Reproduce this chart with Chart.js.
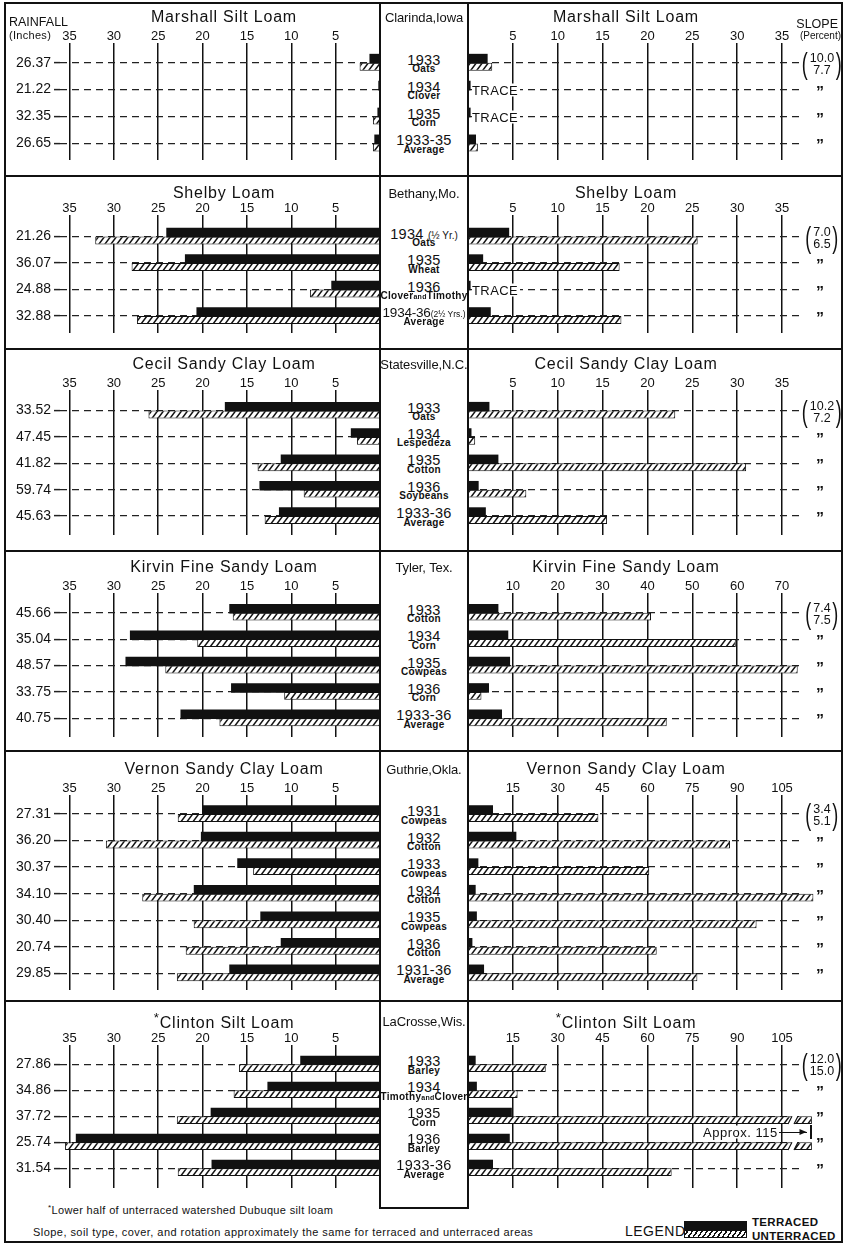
<!DOCTYPE html>
<html>
<head>
<meta charset="utf-8">
<script src="https://cdn.jsdelivr.net/npm/chart.js@4.4.0/dist/chart.umd.min.js"></script>
<style>
  body { margin: 0; background: #fff; }
  #page { position: relative; width: 845px; height: 1245px; overflow: hidden;
          font-family: "Liberation Sans", Arial, sans-serif; color: #111; background: #fff; }
  #page div.abs { position: absolute; white-space: nowrap; line-height: 1; }
  #page canvas { position: absolute; }
  .rule { position: absolute; background: #111; }
</style>
</head>
<body>
<div id="page"></div>
<script>
'use strict';

// ---- Data ----

const ticksLeft = [5, 10, 15, 20, 25, 30, 35];
const ticks35 = [5, 10, 15, 20, 25, 30, 35];
const ticks70 = [10, 20, 30, 40, 50, 60, 70];
const ticks105 = [15, 30, 45, 60, 75, 90, 105];

// Marshall Silt Loam - Clarinda, Iowa
const clarindaRain = [26.37, 21.22, 32.35, 26.65];
const clarindaYears = ['1933', '1934', '1935', '1933-35'];
const clarindaCrops = ['Oats', 'Clover', 'Corn', 'Average'];
const clarindaLeftTerraced = [1.1, 0.1, 0.2, 0.55];
const clarindaLeftUnterraced = [2.3, 0, 0.8, 0.8];
const clarindaRightTerraced = [2.1, 0.2, 0.2, 0.8];
const clarindaRightUnterraced = [2.7, 0, 0, 1.1];
const clarindaSlope = ['10.0', '7.7'];
const clarindaTrace = [1, 2];

// Shelby Loam - Bethany, Mo.
const bethanyRain = [21.26, 36.07, 24.88, 32.88];
const bethanyYears = ['1934 (½ Yr.)', '1935', '1936', '1934-36(2½ Yrs.)'];
const bethanyCrops = ['Oats', 'Wheat', 'Clover and Timothy', 'Average'];
const bethanyLeftTerraced = [24.0, 21.9, 5.4, 20.6];
const bethanyLeftUnterraced = [32.1, 28.0, 7.9, 27.4];
const bethanyRightTerraced = [4.5, 1.6, 0.2, 2.45];
const bethanyRightUnterraced = [25.6, 16.9, 0, 17.1];
const bethanySlope = ['7.0', '6.5'];
const bethanyTrace = [2];

// Cecil Sandy Clay Loam - Statesville, N.C.
const statesvilleRain = [33.52, 47.45, 41.82, 59.74, 45.63];
const statesvilleYears = ['1933', '1934', '1935', '1936', '1933-36'];
const statesvilleCrops = ['Oats', 'Lespedeza', 'Cotton', 'Soybeans', 'Average'];
const statesvilleLeftTerraced = [17.4, 3.2, 11.1, 13.5, 11.3];
const statesvilleLeftUnterraced = [26.1, 2.6, 13.8, 8.6, 13.0];
const statesvilleRightTerraced = [2.3, 0.3, 3.3, 1.1, 1.9];
const statesvilleRightUnterraced = [23.1, 0.8, 31.0, 6.5, 15.5];
const statesvilleSlope = ['10.2', '7.2'];

// Kirvin Fine Sandy Loam - Tyler, Tex.
const tylerRain = [45.66, 35.04, 48.57, 33.75, 40.75];
const tylerYears = ['1933', '1934', '1935', '1936', '1933-36'];
const tylerCrops = ['Cotton', 'Corn', 'Cowpeas', 'Corn', 'Average'];
const tylerLeftTerraced = [16.9, 28.1, 28.6, 16.7, 22.4];
const tylerLeftUnterraced = [16.6, 20.6, 24.2, 10.8, 18.1];
const tylerRightTerraced = [6.6, 8.8, 9.2, 4.5, 7.4];
const tylerRightUnterraced = [40.8, 59.7, 73.5, 3.0, 44.3];
const tylerSlope = ['7.4', '7.5'];

// Vernon Sandy Clay Loam - Guthrie, Okla.
const guthrieRain = [27.31, 36.20, 30.37, 34.10, 30.40, 20.74, 29.85];
const guthrieYears = ['1931', '1932', '1933', '1934', '1935', '1936', '1931-36'];
const guthrieCrops = ['Cowpeas', 'Cotton', 'Cowpeas', 'Cotton', 'Cowpeas', 'Cotton', 'Average'];
const guthrieLeftTerraced = [19.9, 20.1, 16.0, 20.9, 13.4, 11.1, 16.9];
const guthrieLeftUnterraced = [22.8, 30.9, 14.3, 26.8, 21.0, 21.9, 22.9];
const guthrieRightTerraced = [8.1, 15.9, 3.2, 2.3, 2.7, 1.2, 5.1];
const guthrieRightUnterraced = [43.6, 87.6, 60.6, 115.5, 96.5, 63.1, 76.7];
const guthrieSlope = ['3.4', '5.1'];

// *Clinton Silt Loam - LaCrosse, Wis.
const lacrosseRain = [27.86, 34.86, 37.72, 25.74, 31.54];
const lacrosseYears = ['1933', '1934', '1935', '1936', '1933-36'];
const lacrosseCrops = ['Barley', 'Timothy and Clover', 'Corn', 'Barley', 'Average'];
const lacrosseLeftTerraced = [8.9, 12.6, 19.0, 34.2, 18.9];
const lacrosseLeftUnterraced = [15.9, 16.5, 22.9, 35.5, 22.8];
const lacrosseRightTerraced = [2.3, 2.7, 14.4, 13.7, 8.1];
const lacrosseRightUnterraced = [26.0, 16.6, 115, 115, 68.1];
const lacrosseSlope = ['12.0', '15.0'];
const lacrosseApprox = [2, 3];

const panels = [
  { title: 'Marshall Silt Loam', place: 'Clarinda,Iowa', rain: clarindaRain, years: clarindaYears, crops: clarindaCrops,
    lt: clarindaLeftTerraced, lu: clarindaLeftUnterraced, rt: clarindaRightTerraced, ru: clarindaRightUnterraced,
    slope: clarindaSlope, rightTicks: ticks35, trace: clarindaTrace },
  { title: 'Shelby Loam', place: 'Bethany,Mo.', rain: bethanyRain, years: bethanyYears, crops: bethanyCrops,
    lt: bethanyLeftTerraced, lu: bethanyLeftUnterraced, rt: bethanyRightTerraced, ru: bethanyRightUnterraced,
    slope: bethanySlope, rightTicks: ticks35, trace: bethanyTrace },
  { title: 'Cecil Sandy Clay Loam', place: 'Statesville,N.C.', rain: statesvilleRain, years: statesvilleYears, crops: statesvilleCrops,
    lt: statesvilleLeftTerraced, lu: statesvilleLeftUnterraced, rt: statesvilleRightTerraced, ru: statesvilleRightUnterraced,
    slope: statesvilleSlope, rightTicks: ticks35 },
  { title: 'Kirvin Fine Sandy Loam', place: 'Tyler, Tex.', rain: tylerRain, years: tylerYears, crops: tylerCrops,
    lt: tylerLeftTerraced, lu: tylerLeftUnterraced, rt: tylerRightTerraced, ru: tylerRightUnterraced,
    slope: tylerSlope, rightTicks: ticks70 },
  { title: 'Vernon Sandy Clay Loam', place: 'Guthrie,Okla.', rain: guthrieRain, years: guthrieYears, crops: guthrieCrops,
    lt: guthrieLeftTerraced, lu: guthrieLeftUnterraced, rt: guthrieRightTerraced, ru: guthrieRightUnterraced,
    slope: guthrieSlope, rightTicks: ticks105 },
  { title: '<sup>*</sup>Clinton Silt Loam', place: 'LaCrosse,Wis.', rain: lacrosseRain, years: lacrosseYears, crops: lacrosseCrops,
    lt: lacrosseLeftTerraced, lu: lacrosseLeftUnterraced, rt: lacrosseRightTerraced, ru: lacrosseRightUnterraced,
    slope: lacrosseSlope, rightTicks: ticks105, approx: lacrosseApprox }
];

// ---- Layout (pixels) ----

const boxes = [
  { top: 2,    titleY: 17,   gridTop: 43,   firstRow: 62.7,   step: 26.9,  gridBottom: 160 },
  { top: 176,  titleY: 193,  gridTop: 215,  firstRow: 236.6,  step: 26.45, gridBottom: 333 },
  { top: 349,  titleY: 364,  gridTop: 390,  firstRow: 410.6,  step: 26.35, gridBottom: 535 },
  { top: 551,  titleY: 567,  gridTop: 593,  firstRow: 612.7,  step: 26.4,  gridBottom: 737 },
  { top: 751,  titleY: 769,  gridTop: 795,  firstRow: 814,    step: 26.55, gridBottom: 990 },
  { top: 1001, titleY: 1021, gridTop: 1045, firstRow: 1064.3, step: 26.0,  gridBottom: 1188 }
];
const leftZero = 380, left35 = 69.5, leftArea = 60;
const rightZero = 468, rightLast = 782, rightArea = 802;

Chart.defaults.font.family = '"Liberation Sans", Arial, sans-serif';
Chart.defaults.color = '#111';

const page = document.getElementById('page');

function put(html, x, y, style, transform) {
  const d = document.createElement('div');
  d.className = 'abs';
  d.innerHTML = html;
  d.style.left = x + 'px';
  d.style.top = y + 'px';
  d.style.transform = transform || 'translate(-50%, -50%)';
  Object.assign(d.style, style || {});
  page.appendChild(d);
  return d;
}

function rule(x, y, w, h) {
  const d = document.createElement('div');
  d.className = 'rule';
  d.style.left = x + 'px';
  d.style.top = y + 'px';
  d.style.width = w + 'px';
  d.style.height = h + 'px';
  page.appendChild(d);
}

function hatchFor(ctx) {
  const tile = document.createElement('canvas');
  tile.width = 6;
  tile.height = 8;
  const g = tile.getContext('2d');
  g.fillStyle = '#fff';
  g.fillRect(0, 0, 6, 8);
  g.strokeStyle = '#111';
  g.lineWidth = 1.5;
  g.beginPath();
  g.moveTo(-1.5, 10); g.lineTo(7.5, -2);
  g.moveTo(-7.5, 10); g.lineTo(1.5, -2);
  g.moveTo(4.5, 10); g.lineTo(13.5, -2);
  g.stroke();
  return ctx.createPattern(tile, 'repeat');
}

// keep scales from asking for extra room round the chart area
function noPadding(s) {
  s.paddingTop = 0;
  s.paddingBottom = 0;
  s.paddingLeft = 0;
  s.paddingRight = 0;
}

// white break on bars that run off the scale
const breakMarks = {
  id: 'breakMarks',
  afterDatasetsDraw(chart, args, opts) {
    if (!opts.rows) return;
    const meta = chart.getDatasetMeta(1);
    const x = chart.scales.x.getPixelForValue(opts.at);
    const ctx = chart.ctx;
    opts.rows.forEach(i => {
      const bar = meta.data[i];
      const top = bar.y - bar.height / 2, bot = bar.y + bar.height / 2;
      ctx.save();
      ctx.fillStyle = '#fff';
      ctx.beginPath();
      ctx.moveTo(x, bot); ctx.lineTo(x + 4, top - 1); ctx.lineTo(x + 10, top - 1); ctx.lineTo(x + 6, bot);
      ctx.closePath();
      ctx.fill();
      ctx.strokeStyle = '#111';
      ctx.lineWidth = 1.2;
      ctx.beginPath();
      ctx.moveTo(x, bot); ctx.lineTo(x + 4, top);
      ctx.moveTo(x + 6, bot); ctx.lineTo(x + 10, top);
      ctx.stroke();
      ctx.restore();
    });
  }
};

function makeChart(p, L, side) {
  const isLeft = side === 'left';
  const ticks = isLeft ? ticksLeft : p.rightTicks;
  const last = ticks[ticks.length - 1];
  const n = p.rain.length;
  const yMin = -(L.firstRow - L.gridTop) / L.step;
  const yMax = (n - 1) + (L.gridBottom - (L.firstRow + (n - 1) * L.step)) / L.step;
  let xMax, cx, cw, padRight;
  if (isLeft) {
    cx = 6; cw = leftZero - cx; padRight = 0;
    xMax = last * (leftZero - leftArea) / (leftZero - left35);
  } else {
    cx = rightZero; cw = 372; padRight = cx + cw - rightArea;
    xMax = last * (rightArea - rightZero) / (rightLast - rightZero);
  }
  const canvas = document.createElement('canvas');
  canvas.width = cw;
  canvas.height = L.gridBottom - L.top;
  canvas.style.left = cx + 'px';
  canvas.style.top = L.top + 'px';
  canvas.style.width = cw + 'px';
  canvas.style.height = canvas.height + 'px';
  page.appendChild(canvas);
  const ctx = canvas.getContext('2d');
  const terraced = isLeft ? p.lt : p.rt;
  const unterraced = isLeft ? p.lu : p.ru;

  return new Chart(ctx, {
    type: 'bar',
    data: {
      datasets: [
        { label: 'Terraced', data: terraced.map((v, i) => ({ x: v, y: i })),
          backgroundColor: '#111', borderWidth: 0, inflateAmount: 0.8,
          categoryPercentage: 0.6, barPercentage: 1, clip: false },
        { label: 'Unterraced', data: unterraced.map((v, i) => ({ x: v, y: i })),
          backgroundColor: hatchFor(ctx), borderColor: '#111', borderWidth: 1, borderSkipped: false,
          categoryPercentage: 0.6, barPercentage: 1, clip: false }
      ]
    },
    plugins: [breakMarks],
    options: {
      indexAxis: 'y',
      responsive: false,
      animation: false,
      events: [],
      layout: { autoPadding: false, padding: { left: 0, right: padRight, top: 0, bottom: 0 } },
      plugins: {
        legend: { display: false },
        tooltip: { enabled: false },
        breakMarks: (!isLeft && p.approx) ? { rows: p.approx, at: 107 } : {}
      },
      scales: {
        x: {
          type: 'linear', position: 'top', reverse: isLeft, min: 0, max: xMax, offset: false,
          afterBuildTicks: s => { s.ticks = ticks.map(v => ({ value: v })); },
          afterFit: s => { s.height = L.gridTop - L.top; noPadding(s); },
          grid: { color: '#111', lineWidth: 1.5, drawTicks: false, offset: false },
          border: { display: false },
          ticks: { padding: -1, font: { size: 13 }, color: '#111', autoSkip: false, maxRotation: 0 }
        },
        y: {
          type: 'linear', position: 'left', reverse: true, min: yMin, max: yMax, offset: false,
          afterBuildTicks: s => { s.ticks = p.rain.map((_, i) => ({ value: i })); },
          afterFit: s => { s.width = isLeft ? leftArea - cx : 0; noPadding(s); },
          grid: { color: '#222', lineWidth: 1.2, drawTicks: isLeft, tickLength: 6, tickWidth: 1.5, offset: false },
          border: { display: false, dash: [7, 5] },
          ticks: { display: isLeft, padding: 3, font: { size: 14 }, color: '#111',
                   callback: v => (p.rain[v] !== undefined ? p.rain[v].toFixed(2) : '') }
        }
      }
    }
  });
}

// ---- Frame ----
put('', 4, 2, { width: '839px', height: '1241px', border: '2px solid #111', boxSizing: 'border-box' }, 'none');
[176, 349, 551, 751, 1001].forEach(y => rule(5, y - 1, 837, 2));
rule(379, 2, 1.6, 1207);
rule(467, 2, 1.6, 1207);
rule(379, 1207, 90, 1.6);

// ---- Panels ----
panels.forEach((p, k) => {
  const L = boxes[k];
  makeChart(p, L, 'left');
  makeChart(p, L, 'right');

  const titleStyle = { fontSize: '16px', letterSpacing: '0.8px' };
  put(p.title, 224, L.titleY, titleStyle);
  put(p.title, 626, L.titleY, titleStyle);
  put(p.place, 424, L.titleY, { fontSize: '13px', letterSpacing: '-0.1px' });

  p.rain.forEach((_, i) => {
    const y = L.firstRow + i * L.step;
    const long = p.years[i].length > 12;
    const year = p.years[i].replace(/\((.*)\)/,
      '<span style="font-size:' + (long ? 8.5 : 10) + 'px;letter-spacing:0">($1)</span>');
    const crop = p.crops[i].replace(/ and /, '<span style="font-size:7px">and</span>');
    put(year, 424, y - 3, long ? { fontSize: '13.5px', letterSpacing: '-0.2px' }
                               : { fontSize: '14.5px', letterSpacing: '0.3px' });
    put(crop, 424, y + 6.5, { fontSize: '10px', fontWeight: 'bold', letterSpacing: '0.3px' });
    if (i === 0) {
      put('<span style="font-size:30px;font-weight:normal;display:inline-block;transform:scaleX(0.6);line-height:26px">(</span>' +
          '<span style="display:inline-block;text-align:center;font-size:12.5px;line-height:12px">' + p.slope[0] + '<br>' + p.slope[1] + '</span>' +
          '<span style="font-size:30px;display:inline-block;transform:scaleX(0.6);line-height:26px">)</span>',
          822, y + 1, { display: 'flex', alignItems: 'center' });
    } else {
      put('\u201D', 820, y + 3, { fontSize: '16px', fontWeight: 'bold' });
    }
  });

  (p.trace || []).forEach(i => {
    const y = L.firstRow + i * L.step;
    put('TRACE', 472, y, { fontSize: '13px', letterSpacing: '0.4px', background: '#fff', paddingRight: '2px' },
        'translate(0, -50%)');
  });
});

// ---- Headers, notes, legend ----
put('RAINFALL', 9, 22, { fontSize: '12.5px' }, 'translate(0, -50%)');
put('(Inches)', 9, 35, { fontSize: '11px', letterSpacing: '0.3px' }, 'translate(0, -50%)');
put('SLOPE', 838, 24, { fontSize: '12.5px' }, 'translate(-100%, -50%)');
put('(Percent)', 841, 36, { fontSize: '10px' }, 'translate(-100%, -50%)');

const approxRow = boxes[5].firstRow + 2.6 * boxes[5].step;
put('Approx. 115', 703, approxRow, { fontSize: '13px', letterSpacing: '0.5px', background: '#fff', paddingRight: '2px' },
    'translate(0, -50%)');
rule(779, approxRow, 28, 1.2);
put('', 803, approxRow + 0.5, { width: 0, height: 0, borderTop: '3px solid transparent', borderBottom: '3px solid transparent',
    borderLeft: '7px solid #111' });
rule(810, approxRow - 7, 1.5, 14);

put('<sup style="font-size:8px">*</sup>Lower half of unterraced watershed Dubuque silt loam', 48, 1210,
    { fontSize: '11px', letterSpacing: '0.35px' }, 'translate(0, -50%)');
put('Slope, soil type, cover, and rotation approximately the same for terraced and unterraced areas', 33, 1232,
    { fontSize: '11px', letterSpacing: '0.45px' }, 'translate(0, -50%)');
put('LEGEND', 625, 1231, { fontSize: '14px', letterSpacing: '0.5px' }, 'translate(0, -50%)');
put('', 684, 1221, { width: '63px', height: '9px', background: '#111' }, 'none');
put('', 684, 1230, { width: '63px', height: '8px', border: '1px solid #111', boxSizing: 'border-box',
    background: 'repeating-linear-gradient(-55deg, #fff 0 2.5px, #111 2.5px 4px)' }, 'none');
put('TERRACED', 752, 1223, { fontSize: '11.5px', fontWeight: 'bold', letterSpacing: '0.3px' }, 'translate(0, -50%)');
put('UNTERRACED', 752, 1237, { fontSize: '11.5px', fontWeight: 'bold', letterSpacing: '0.3px' }, 'translate(0, -50%)');
</script>
</body>
</html>
